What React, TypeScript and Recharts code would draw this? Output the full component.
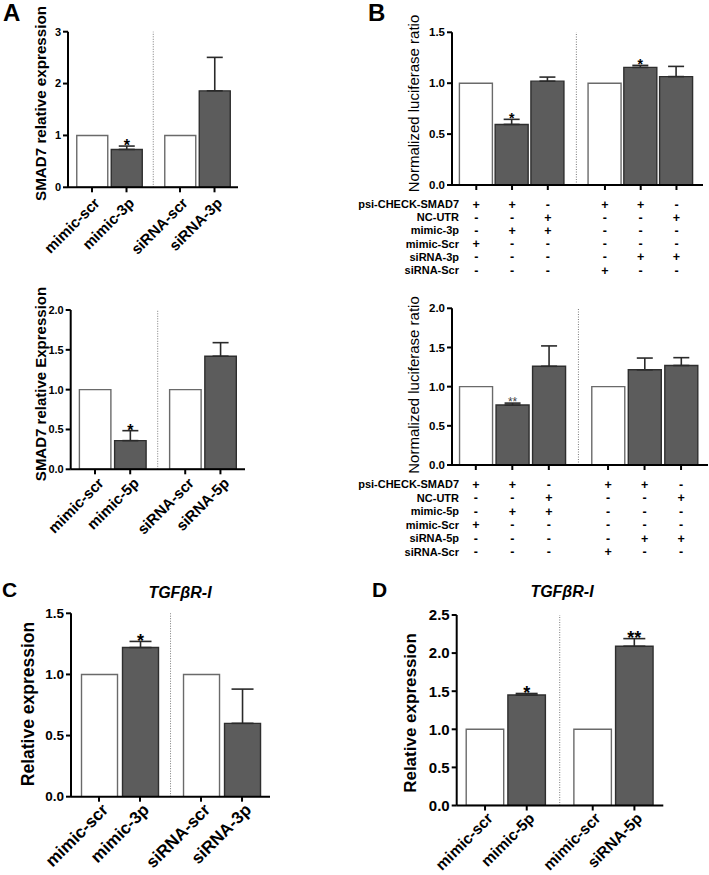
import React from 'react';
import { BarChart, Bar, XAxis, YAxis, ErrorBar, ReferenceLine, LabelList, Cell } from 'recharts';

const FONT = '"Liberation Sans", Arial, Helvetica, sans-serif';

// ---------- Panel A (top): SMAD7, miR-3p ----------
const aTopLabels = ['mimic-scr', 'mimic-3p', 'siRNA-scr', 'siRNA-3p'];
const aTopValues = [1, 0.73, 1, 1.86];
const aTopErrors: (number | null)[] = [null, 0.065, null, 0.645];
const aTopSig = ['', '*', '', ''];
const aTopTicks = [0, 1, 2, 3];

// ---------- Panel A (bottom): SMAD7, miR-5p ----------
const aBotLabels = ['mimic-scr', 'mimic-5p', 'siRNA-scr', 'siRNA-5p'];
const aBotValues = [1, 0.36, 1, 1.42];
const aBotErrors: (number | null)[] = [null, 0.125, null, 0.17];
const aBotSig = ['', '*', '', ''];
const aBotTicks = [0, 0.5, 1, 1.5, 2];

// ---------- Panel B (top): luciferase, 3p ----------
const bTopValues = [1, 0.595, 1.02, 1, 1.155, 1.065];
const bTopErrors: (number | null)[] = [null, 0.05, 0.04, null, 0.02, 0.1];
const bTopSig = ['', '*', '', '', '*', ''];
const bTopTicks = [0, 0.5, 1, 1.5];
const bTopRows = ['psi-CHECK-SMAD7', 'NC-UTR', 'mimic-3p', 'mimic-Scr', 'siRNA-3p', 'siRNA-Scr'];
const bTopSigns = [
  ['+', '+', '-', '+', '+', '-'],
  ['-', '-', '+', '-', '-', '+'],
  ['-', '+', '+', '-', '-', '-'],
  ['+', '-', '-', '-', '-', '-'],
  ['-', '-', '-', '-', '+', '+'],
  ['-', '-', '-', '+', '-', '-'],
];

// ---------- Panel B (bottom): luciferase, 5p ----------
const bBotValues = [1, 0.765, 1.26, 1, 1.215, 1.27];
const bBotErrors: (number | null)[] = [null, 0.025, 0.26, null, 0.15, 0.1];
const bBotSig = ['', '**', '', '', '', ''];
const bBotTicks = [0, 0.5, 1, 1.5, 2];
const bBotRows = ['psi-CHECK-SMAD7', 'NC-UTR', 'mimic-5p', 'mimic-Scr', 'siRNA-5p', 'siRNA-Scr'];
const bBotSigns = [
  ['+', '+', '-', '+', '+', '-'],
  ['-', '-', '+', '-', '-', '+'],
  ['-', '+', '+', '-', '-', '-'],
  ['+', '-', '-', '-', '-', '-'],
  ['-', '-', '-', '-', '+', '+'],
  ['-', '-', '-', '+', '-', '-'],
];

// ---------- Panel C: TGFbR-I, 3p ----------
const cLabels = ['mimic-scr', 'mimic-3p', 'siRNA-scr', 'siRNA-3p'];
const cValues = [1, 1.22, 1, 0.6];
const cErrors: (number | null)[] = [null, 0.05, null, 0.28];
const cSig = ['', '*', '', ''];
const cTicks = [0, 0.5, 1, 1.5];

// ---------- Panel D: TGFbR-I, 5p ----------
const dLabels = ['mimic-scr', 'mimic-5p', 'mimic-scr', 'siRNA-5p'];
const dValues = [1, 1.45, 1, 2.09];
const dErrors: (number | null)[] = [null, 0.02, null, 0.1];
const dSig = ['', '*', '', '**'];
const dTicks = [0, 0.5, 1, 1.5, 2, 2.5];

type PanelProps = {
  left: number; top: number; width: number; height: number;
  x0: number; x1: number; yTop: number; yBottom: number;
  lo: number; hi: number; gap: number; barSize: number;
  yTicks: number[]; yFmt: (v: number) => string; yTickFont: number;
  values: number[]; errors: (number | null)[]; sig: string[];
  labels?: string[]; labelFont?: number; ldx?: number; ldy?: number;
  rows?: string[]; signs?: string[][]; rowLabelX?: number; firstRow?: number; rowStep?: number;
  starFont: number; starColor?: string; starWeight?: string; capWidth: number;
};

function Panel(p: PanelProps) {
  const n = p.values.length;
  const g = n / 2;
  const pos = p.values.map((_, i) => i + (i >= g ? p.gap : 0));
  const sep = (g - 1 + g + p.gap) / 2;
  const data = p.values.map((v, i) => ({
    x: pos[i],
    v,
    err: p.errors[i] == null ? null : [0, p.errors[i] as number],
    sig: p.sig[i],
  }));
  const yAxisW = p.x0 - p.left;
  const mTop = p.yTop - p.top;
  const mRight = p.left + p.width - p.x1;
  const xH = p.top + p.height - p.yBottom;
  const axisY = p.yBottom - p.top;
  const yMax = p.yTicks[p.yTicks.length - 1];

  const XTick = (tp: any) => {
    const { x, y, payload } = tp;
    let i = pos.indexOf(payload.value);
    if (i < 0) i = payload.index ?? 0;
    if (p.rows && p.signs) {
      return (
        <g>
          {p.signs.map((row, r) => (
            <text key={r} x={x} y={axisY + (p.firstRow as number) + r * (p.rowStep as number) + 0.5}
              textAnchor="middle" fontSize={12.5} fontWeight="bold" fill="#000" fontFamily={FONT}>
              {row[i]}
            </text>
          ))}
          {i === 0 && p.rows.map((lab, r) => (
            <text key={'l' + r} x={p.rowLabelX} y={axisY + (p.firstRow as number) + r * (p.rowStep as number)}
              textAnchor="end" fontSize={11} fontWeight="bold" fill="#000" fontFamily={FONT}>
              {lab}
            </text>
          ))}
        </g>
      );
    }
    const lab = p.labels ? p.labels[i] : '';
    return (
      <g transform={`translate(${x + (p.ldx ?? 5)},${y + (p.ldy ?? 6)}) rotate(-45)`}>
        <text x={0} y={0} dy="0.35em" textAnchor="end" fontSize={p.labelFont} fontWeight="bold"
          fill="#000" fontFamily={FONT}>{lab}</text>
      </g>
    );
  };

  const Star = (lp: any) => {
    const { x, y, width, height, value, index } = lp;
    if (!value) return null;
    const v = p.values[index];
    const e = p.errors[index] ?? 0;
    const ppu = height / v;
    const capY = y - e * ppu;
    const base = capY - 2 + 0.43 * p.starFont;
    return (
      <text x={x + width / 2} y={base} textAnchor="middle" fontSize={p.starFont}
        fontWeight={p.starWeight ?? 'bold'} fill={p.starColor ?? '#000'} fontFamily={FONT}>
        {value}
      </text>
    );
  };

  return (
    <div style={{ position: 'absolute', left: p.left, top: p.top, width: p.width, height: p.height }}>
      <BarChart width={p.width} height={p.height} data={data}
        margin={{ top: mTop, right: mRight, left: 0, bottom: 0 }}>
        <XAxis dataKey="x" type="number" domain={[p.lo, p.hi]} ticks={pos} allowDataOverflow
          interval={0} height={xH} tick={<XTick />} tickSize={5}
          tickLine={{ stroke: '#000', strokeWidth: 2 }} axisLine={{ stroke: '#000', strokeWidth: 2 }} />
        <YAxis type="number" width={yAxisW} domain={[0, yMax]} ticks={p.yTicks} allowDataOverflow
          interval={0} tickFormatter={p.yFmt} tickSize={5} tickMargin={2}
          tick={{ fontSize: p.yTickFont, fontWeight: 'bold', fill: '#000', fontFamily: FONT }}
          tickLine={{ stroke: '#000', strokeWidth: 2 }} axisLine={{ stroke: '#000', strokeWidth: 2 }} />
        <ReferenceLine x={sep} stroke="#7a7a7a" strokeWidth={1} strokeDasharray="1 1.5" ifOverflow="extendDomain" />
        <Bar dataKey="v" barSize={p.barSize} isAnimationActive={false}>
          {data.map((d, i) => {
            const ctrl = i === 0 || i === g;
            return (
              <Cell key={i} fill={ctrl ? '#ffffff' : '#5c5c5c'} stroke={ctrl ? '#6a6a6a' : '#2e2e2e'}
                strokeWidth={1.4} />
            );
          })}
          <ErrorBar dataKey="err" direction="y" width={p.capWidth} stroke="#2a2a2a" strokeWidth={1.6} />
          <LabelList dataKey="sig" content={<Star />} />
        </Bar>
      </BarChart>
    </div>
  );
}

const int = (v: number) => String(v);
const one = (v: number) => v.toFixed(1);

export default function App() {
  return (
    <div style={{ position: 'absolute', left: 0, top: 0, width: 709, height: 875, background: '#fff', fontFamily: FONT }}>
      <Panel left={0} top={0} width={250} height={264} x0={68} x1={238} yTop={31.7} yBottom={187.3}
        lo={-0.696} hi={4.232} gap={0.551} barSize={31} yTicks={aTopTicks} yFmt={int} yTickFont={11}
        values={aTopValues} errors={aTopErrors} sig={aTopSig} labels={aTopLabels} labelFont={15}
        ldx={5} ldy={6} starFont={16} capWidth={8} />
      <Panel left={0} top={268} width={260} height={272} x0={70.7} x1={245} yTop={310} yBottom={469.3}
        lo={-0.69} hi={4.26} gap={0.5625} barSize={31.5} yTicks={aBotTicks} yFmt={one} yTickFont={11}
        values={aBotValues} errors={aBotErrors} sig={aBotSig} labels={aBotLabels} labelFont={15}
        ldx={6} ldy={4} starFont={16} capWidth={8} />
      <Panel left={355} top={10} width={354} height={275} x0={452} x1={703} yTop={32.3} yBottom={185}
        lo={-0.679} hi={6.34} gap={0.598} barSize={33} yTicks={bTopTicks} yFmt={one} yTickFont={11.5}
        values={bTopValues} errors={bTopErrors} sig={bTopSig}
        rows={bTopRows} signs={bTopSigns} rowLabelX={104} firstRow={23} rowStep={13.2}
        starFont={14} capWidth={8} />
      <Panel left={355} top={290} width={354} height={275} x0={452} x1={708} yTop={308.3} yBottom={465}
        lo={-0.652} hi={6.36} gap={0.622} barSize={33} yTicks={bBotTicks} yFmt={one} yTickFont={11.5}
        values={bBotValues} errors={bBotErrors} sig={bBotSig}
        rows={bBotRows} signs={bBotSigns} rowLabelX={104} firstRow={23} rowStep={13.5}
        starFont={12} starColor="#444" starWeight="normal" capWidth={8} />
      <Panel left={0} top={600} width={285} height={275} x0={71} x1={270} yTop={613.3} yBottom={796.7}
        lo={-0.683} hi={4.17} gap={0.488} barSize={36} yTicks={cTicks} yFmt={one} yTickFont={13.5}
        values={cValues} errors={cErrors} sig={cSig} labels={cLabels} labelFont={17}
        ldx={6} ldy={3} starFont={18} capWidth={11} />
      <Panel left={380} top={600} width={300} height={275} x0={456.7} x1={663.3} yTop={615} yBottom={805.5}
        lo={-0.68} hi={4.276} gap={0.583} barSize={37.5} yTicks={dTicks} yFmt={one} yTickFont={15}
        values={dValues} errors={dErrors} sig={dSig} labels={dLabels} labelFont={15.5}
        ldx={5} ldy={3} starFont={18} capWidth={11} />

      <svg width={709} height={875} style={{ position: 'absolute', left: 0, top: 0, pointerEvents: 'none' }}
        fontFamily={FONT}>
        <text x={3} y={21} fontSize={24} fontWeight="bold" fill="#000">A</text>
        <text x={368} y={21} fontSize={24} fontWeight="bold" fill="#000">B</text>
        <text x={2} y={597} fontSize={21} fontWeight="bold" fill="#000">C</text>
        <text x={372} y={597} fontSize={21} fontWeight="bold" fill="#000">D</text>
        <text x={180} y={598} fontSize={16} fontWeight="bold" fontStyle="italic" textAnchor="middle" fill="#000">TGFβR-I</text>
        <text x={562} y={597} fontSize={16} fontWeight="bold" fontStyle="italic" textAnchor="middle" fill="#000">TGFβR-I</text>
        <text transform="translate(41,103.5) rotate(-90)" dy="0.35em" textAnchor="middle" fontSize={15.2} fontWeight="bold" fill="#000">SMAD7 relative expression</text>
        <text transform="translate(41,384) rotate(-90)" dy="0.35em" textAnchor="middle" fontSize={15} fontWeight="bold" fill="#000">SMAD7 relative Expression</text>
        <text transform="translate(414,103.5) rotate(-90)" dy="0.35em" textAnchor="middle" fontSize={15} fill="#000">Normalized luciferase ratio</text>
        <text transform="translate(414,385) rotate(-90)" dy="0.35em" textAnchor="middle" fontSize={15} fill="#000">Normalized luciferase ratio</text>
        <text transform="translate(27.5,704) rotate(-90)" dy="0.35em" textAnchor="middle" fontSize={17.5} fontWeight="bold" fill="#000">Relative expression</text>
        <text transform="translate(410.5,713) rotate(-90)" dy="0.35em" textAnchor="middle" fontSize={17} fontWeight="bold" fill="#000">Relative expression</text>
      </svg>
    </div>
  );
}
